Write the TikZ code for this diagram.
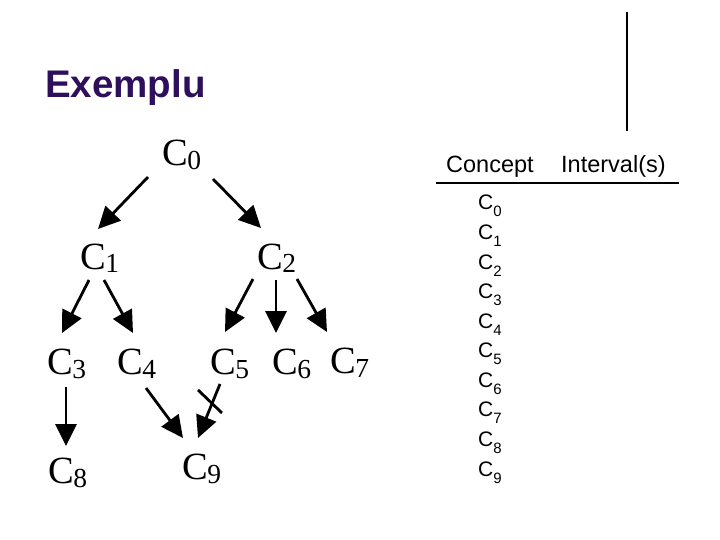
\documentclass[tikz,border=0pt]{standalone}
\usepackage{fontspec}
\setmainfont{Liberation Serif}
\newfontfamily\arialf{Liberation Sans}
\usetikzlibrary{arrows.meta}
\definecolor{titlecol}{HTML}{2E0F5C}
\newcommand{\TC}[1]{\fontsize{38.5}{40}\selectfont C\kern-0.5pt\raisebox{-4pt}{\fontsize{27.5}{28}\selectfont #1}}
\newcommand{\RC}[1]{\arialf\fontsize{21}{22}\selectfont C\raisebox{-7pt}{\fontsize{15}{15}\selectfont #1}}
\begin{document}
\begin{tikzpicture}[x=1pt,y=-1pt,
  tree/.style={anchor=base west, inner sep=0pt},
  arr/.style={line width=2.8pt, -{Triangle[length=22pt,width=21pt]}},
  rowc/.style={anchor=base west, inner sep=0pt},
  hdr/.style={anchor=base west, inner sep=0pt, font=\arialf\fontsize{23.5}{25}\selectfont},
  rule/.style={line width=1.4pt}]
\useasboundingbox[fill=white] (0,0) rectangle (720,540);
% title
\node[anchor=base west, inner sep=0pt, text=titlecol, font=\arialf\bfseries\fontsize{38.5}{40}\selectfont] (title) at (45,98) {Exemplu};
% tree nodes
\node[tree] (c0) at (162,166) {\TC{0}};
\node[tree] (c1) at (80,269) {\TC{1}};
\node[tree] (c2) at (257,269) {\TC{2}};
\node[tree] (c3) at (47,374) {\TC{3}};
\node[tree] (c4) at (117,374) {\TC{4}};
\node[tree] (c5) at (210,374) {\TC{5}};
\node[tree] (c6) at (272,374) {\TC{6}};
\node[tree] (c7) at (330,373) {\TC{7}};
\node[tree] (c8) at (48,483) {\TC{8}};
\node[tree] (c9) at (182,479) {\TC{9}};
% arrows
\draw[arr] ([shift={(-14,11)}]c0.base west) -- ([shift={(18,-40)}]c1.base west);
\draw[arr] ([shift={(51,13)}]c0.base west) -- ([shift={(4,-41)}]c2.base west);
\draw[arr] ([shift={(9,11)}]c1.base west) -- ([shift={(15,-41)}]c3.base west);
\draw[arr] ([shift={(24,11)}]c1.base west) -- ([shift={(16,-41)}]c4.base west);
\draw[arr] ([shift={(-4,10)}]c2.base west) -- ([shift={(15,-42)}]c5.base west);
\draw[arr] ([shift={(19,11)}]c2.base west) -- ([shift={(4,-41)}]c6.base west);
\draw[arr] ([shift={(40,10)}]c2.base west) -- ([shift={(-3,-41)}]c7.base west);
\draw[arr] ([shift={(19,13)}]c3.base west) -- ([shift={(18,-37)}]c8.base west);
\draw[arr] ([shift={(29,14)}]c4.base west) -- ([shift={(1,-41)}]c9.base west);
\draw[arr] ([shift={(10,10)}]c5.base west) -- ([shift={(16,-41)}]c9.base west);
% cross mark on C5 -> C9
\coordinate (x1) at ([shift={(-12,16)}]c5.base west);
\coordinate (x2) at ([shift={(12,39)}]c5.base west);
\draw[line width=2.8pt] (x1) -- (x2);
% table
\draw[rule] (627,12) -- (627,131);
\node[hdr] (hc) at (446,173) {Concept};
\node[hdr] (hi) at (561,173) {Interval(s)};
\draw[rule] (436,183) -- (679,183);
\foreach \i in {0,...,9}
  \node[rowc] (r\i) at (478,{210+29.56*\i}) {\RC{\i}};
\end{tikzpicture}
\end{document}
